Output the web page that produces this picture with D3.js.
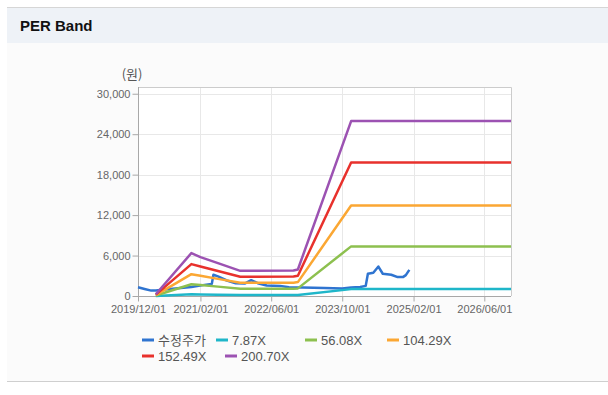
<!DOCTYPE html>
<html>
<head>
<meta charset="utf-8">
<script src="https://cdn.jsdelivr.net/npm/d3@7"></script>
<style>
  body { margin: 0; background: #ffffff; }
  svg { display: block; font-family: Arial, "Liberation Sans", "Noto Sans CJK KR", sans-serif; }
</style>
</head>
<body>
<svg id="svg-per-band" width="608" height="395"></svg>
<script>
//////////////////////////////////////////////////////////////////////////////////////////
// Data
//////////////////////////////////////////////////////////////////////////////////////////

var band_dates = ['2020-04-01', '2020-12-01', '2021-02-01', '2021-06-01', '2021-11-01',
                  '2022-11-01', '2022-12-01', '2023-12-01', '2026-12-01']
var band_787 = [10, 250, 226, 192, 147, 148, 154, 1020, 1020]
var band_5608 = [75, 1740, 1640, 1390, 1070, 1080, 1130, 7360, 7360]
var band_10429 = [140, 3240, 3000, 2540, 1950, 1980, 2060, 13430, 13430]
var band_15249 = [200, 4730, 4370, 3700, 2850, 2880, 3000, 19800, 19800]
var band_20070 = [260, 6370, 5760, 4870, 3730, 3770, 3930, 25950, 25950]

var price_dates = ['2019-12-01', '2020-01-15', '2020-03-01', '2020-04-01', '2020-06-01',
                   '2020-09-01', '2020-12-01', '2021-03-01', '2021-04-20', '2021-05-01',
                   '2021-06-01', '2021-08-01', '2021-10-01', '2021-12-01', '2022-01-15',
                   '2022-03-01', '2022-05-01', '2022-08-01', '2022-10-01', '2023-01-01',
                   '2023-06-01', '2023-10-01', '2023-12-01', '2024-02-01', '2024-03-10',
                   '2024-03-25', '2024-05-01', '2024-06-05', '2024-07-05', '2024-09-01',
                   '2024-10-15', '2024-11-20', '2024-12-10', '2025-01-03']
var price_values = [1300, 1050, 800, 800, 950,
                    1150, 1350, 1650, 1800, 3150,
                    2900, 2300, 1900, 1850, 2350,
                    1900, 1550, 1500, 1300, 1250,
                    1200, 1100, 1250, 1350, 1500,
                    3300, 3450, 4370, 3300, 3150,
                    2800, 2800, 3100, 3880]

var series_names = ['수정주가', '7.87X', '56.08X', '104.29X', '152.49X', '200.70X']
var series_colors = ['#2f74d0', '#1fb6c9', '#8dc04f', '#fba733', '#e8312c', '#9c52b2']

var x_ticks = ['2019/12/01', '2021/02/01', '2022/06/01', '2023/10/01', '2025/02/01', '2026/06/01']
var y_ticks = [0, 6000, 12000, 18000, 24000, 30000]

//////////////////////////////////////////////////////////////////////////////////////////
// Global variables
//////////////////////////////////////////////////////////////////////////////////////////

var plot = { left: 138, right: 511, top: 87, bottom: 296 }
var parse_date = d3.timeParse('%Y-%m-%d')
var parse_tick = d3.timeParse('%Y/%m/%d')

// legend item positions (row 1 / row 2)
var legend_pos = [[142, 340], [216, 340], [305, 340], [387, 340], [142, 356], [225, 356]]

var x_scale = d3.scaleTime()
  .domain([parse_date('2019-12-01'), parse_date('2026-12-01')])
  .range([plot.left, plot.right])

var y_scale = d3.scaleLinear()
  .domain([0, 31000])
  .range([plot.bottom, plot.top])

var svg = d3.select('#svg-per-band')

//////////////////////////////////////////////////////////////////////////////////////////
// Draw
//////////////////////////////////////////////////////////////////////////////////////////

draw_frame()
draw_grid()
draw_axes()
draw_lines()
draw_legend()

//////////////////////////////////////////////////////////////////////////////////////////
// Panel frame and title
//////////////////////////////////////////////////////////////////////////////////////////

function draw_frame() {
  svg.append('rect')
    .attr('x', 7).attr('y', 7).attr('width', 601).attr('height', 374)
    .attr('fill', '#fbfbfb')

  svg.append('rect')
    .attr('x', 7).attr('y', 8).attr('width', 601).attr('height', 35)
    .attr('fill', '#eef2f7')

  svg.append('line')
    .attr('x1', 7).attr('x2', 608).attr('y1', 7.5).attr('y2', 7.5)
    .attr('stroke', '#d6d6d6')

  svg.append('line')
    .attr('x1', 7).attr('x2', 608).attr('y1', 381.5).attr('y2', 381.5)
    .attr('stroke', '#cfcfcf')

  svg.append('text')
    .attr('x', 20).attr('y', 31)
    .attr('font-size', '15px')
    .attr('font-weight', 'bold')
    .attr('fill', '#111')
    .text('PER Band')

  // Plot background
  svg.append('rect')
    .attr('x', plot.left).attr('y', plot.top)
    .attr('width', plot.right - plot.left).attr('height', plot.bottom - plot.top)
    .attr('fill', '#ffffff')
}

//////////////////////////////////////////////////////////////////////////////////////////
// Grid
//////////////////////////////////////////////////////////////////////////////////////////

function draw_grid() {
  var g = svg.append('g').attr('id', 'g-grid')

  g.selectAll('.grid-y')
    .data(y_ticks)
    .enter()
    .append('line')
    .attr('class', 'grid-y')
    .attr('x1', plot.left).attr('x2', plot.right)
    .attr('y1', d => Math.round(y_scale(d)) + 0.5)
    .attr('y2', d => Math.round(y_scale(d)) + 0.5)
    .attr('stroke', '#e8e8e8')

  g.selectAll('.grid-x')
    .data(x_ticks)
    .enter()
    .append('line')
    .attr('class', 'grid-x')
    .attr('x1', d => Math.round(x_scale(parse_tick(d))) + 0.5)
    .attr('x2', d => Math.round(x_scale(parse_tick(d))) + 0.5)
    .attr('y1', plot.top).attr('y2', plot.bottom)
    .attr('stroke', '#e8e8e8')

  // Top and right border
  g.append('path')
    .attr('d', `M${plot.left},${plot.top + 0.5}H${plot.right + 0.5}V${plot.bottom}`)
    .attr('fill', 'none')
    .attr('stroke', '#cccccc')
}

//////////////////////////////////////////////////////////////////////////////////////////
// Axes
//////////////////////////////////////////////////////////////////////////////////////////

function draw_axes() {
  var y_axis = d3.axisLeft(y_scale)
    .tickValues(y_ticks)
    .tickSize(6)
    .tickPadding(2)
    .tickFormat(d3.format(','))

  var g_y = svg.append('g')
    .attr('transform', `translate(${plot.left + 0.5},0)`)
    .call(y_axis)

  var x_axis = d3.axisBottom(x_scale)
    .tickValues(x_ticks.map(parse_tick))
    .tickSize(5)
    .tickPadding(4)
    .tickFormat(d3.timeFormat('%Y/%m/%d'))

  var g_x = svg.append('g')
    .attr('transform', `translate(0,${plot.bottom + 0.5})`)
    .call(x_axis)

  ;[g_y, g_x].forEach(function(g) {
    g.select('.domain').attr('stroke', '#a8a8a8')
    g.selectAll('.tick line').attr('stroke', '#a8a8a8')
    g.selectAll('.tick text')
      .attr('fill', '#666')
      .attr('font-size', '11px')
      .attr('font-family', 'Arial, "Liberation Sans", sans-serif')
  })
  g_x.select('.domain').attr('d', `M${plot.left},0H${plot.right}`)
  g_y.select('.domain').attr('d', `M0,${plot.top}V${plot.bottom}`)

  // Unit label
  svg.append('text')
    .attr('x', 132).attr('y', 79)
    .attr('text-anchor', 'middle')
    .attr('font-size', '13px')
    .attr('fill', '#555')
    .attr('font-family', '"Noto Sans CJK KR", sans-serif')
    .text('(원)')
}

//////////////////////////////////////////////////////////////////////////////////////////
// Lines
//////////////////////////////////////////////////////////////////////////////////////////

function draw_lines() {
  var band_values = [band_787, band_5608, band_10429, band_15249, band_20070]

  var line = d3.line()
    .x(d => x_scale(d.date))
    .y(d => y_scale(d.value))

  var g = svg.append('g').attr('id', 'g-lines')

  var price_data = price_dates.map((d, i) => ({ date: parse_date(d), value: price_values[i] }))

  g.append('path')
    .datum(price_data)
    .attr('d', line)
    .attr('fill', 'none')
    .attr('stroke', series_colors[0])
    .attr('stroke-width', 2.5)
    .attr('stroke-linejoin', 'round')

  band_values.forEach(function(values, k) {
    var data = band_dates.map((d, i) => ({ date: parse_date(d), value: values[i] }))
    g.append('path')
      .datum(data)
      .attr('d', line)
      .attr('fill', 'none')
      .attr('stroke', series_colors[k + 1])
      .attr('stroke-width', 2.5)
      .attr('stroke-linejoin', 'round')
  })
}

//////////////////////////////////////////////////////////////////////////////////////////
// Legend
//////////////////////////////////////////////////////////////////////////////////////////

function draw_legend() {
  var g = svg.append('g').attr('id', 'g-legend')

  var item = g.selectAll('.legend-item')
    .data(series_names)
    .enter()
    .append('g')
    .attr('class', 'legend-item')
    .attr('transform', (d, i) => `translate(${legend_pos[i][0]},${legend_pos[i][1]})`)

  item.append('line')
    .attr('x1', 0).attr('x2', 12)
    .attr('y1', 0).attr('y2', 0)
    .attr('stroke', (d, i) => series_colors[i])
    .attr('stroke-width', 3)

  item.append('text')
    .attr('x', 16).attr('y', 4.5)
    .attr('font-size', '13px')
    .attr('fill', '#555')
    .text(d => d)
}
</script>
</body>
</html>
